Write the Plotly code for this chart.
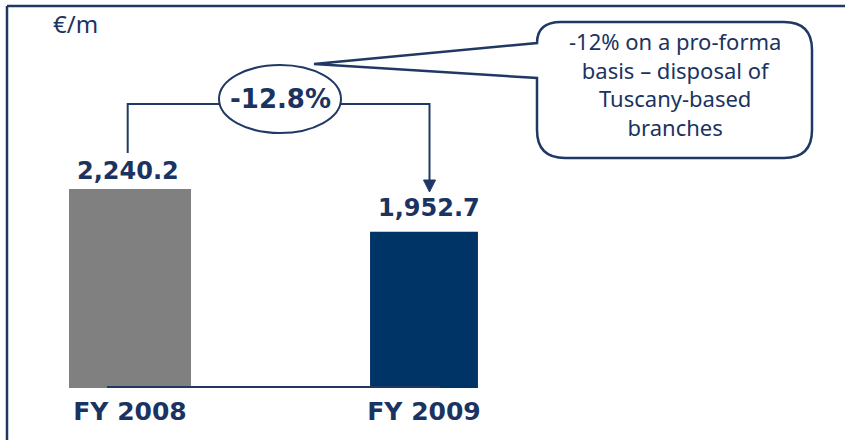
import plotly.graph_objects as go

# ---- data ----
categories = ["FY 2008", "FY 2009"]
values = [2240.2, 1952.7]
value_labels = ["2,240.2", "1,952.7"]
bar_colors = ["#808080", "#003366"]
bar_widths = [0.415, 0.367]
change_label = "-12.8%"
unit_label = "€/m"
callout_text = "-12% on a pro-forma<br>basis – disposal of<br>Tuscany-based<br>branches"

W, H = 845, 440
PLOT_BOTTOM = 388  # pixel y of plot-area bottom (margin t=0)
NAVY = "#1b3360"
LINE = "#1f3864"


def px(x):
    return x / W


def py(y):
    return (PLOT_BOTTOM - y) / PLOT_BOTTOM


fig = go.Figure()
fig.add_trace(go.Bar(
    x=[0, 1], y=values, width=bar_widths,
    marker=dict(color=bar_colors, line=dict(width=0)),
    hoverinfo="skip", showlegend=False,
))

annotations = []
# value labels above bars
shifts = [(-2, 2), (4.5, 8)]
for i, (lab, v) in enumerate(zip(value_labels, values)):
    annotations.append(dict(
        x=i, y=v, xref="x", yref="y", text=lab, showarrow=False,
        xanchor="center", yanchor="bottom", xshift=shifts[i][0], yshift=shifts[i][1],
        font=dict(family="DejaVu Sans", size=24, color=NAVY, weight="bold"),
    ))
# unit
annotations.append(dict(
    x=px(75.5), y=py(23), xref="paper", yref="paper", text=unit_label, showarrow=False,
    xanchor="center", yanchor="middle",
    font=dict(family="Noto Sans", size=24, color=NAVY),
))
# change label in ellipse
annotations.append(dict(
    x=px(280), y=py(99), xref="paper", yref="paper", text=change_label, showarrow=False,
    xanchor="center", yanchor="middle",
    font=dict(family="DejaVu Sans", size=26, color=NAVY, weight="bold"),
))
# callout text
annotations.append(dict(
    x=px(674.5), y=py(84), xref="paper", yref="paper", text=callout_text, showarrow=False,
    xanchor="center", yanchor="middle", align="center",
    font=dict(family="Noto Sans", size=22, color=NAVY),
))

shapes = []
# frame lines (top and left)
shapes.append(dict(type="line", xref="paper", yref="paper", x0=px(7), x1=px(845), y0=py(6), y1=py(6),
                   line=dict(color=LINE, width=2.5)))
shapes.append(dict(type="line", xref="paper", yref="paper", x0=px(7), x1=px(7), y0=py(6), y1=py(440),
                   line=dict(color=LINE, width=2.5)))
# baseline
shapes.append(dict(type="line", xref="paper", yref="paper", x0=px(107), x1=px(440), y0=py(387), y1=py(387),
                   line=dict(color=LINE, width=2)))
# connector left
shapes.append(dict(type="path", xref="paper", yref="paper",
                   path=f"M {px(127.7)},{py(153)} L {px(127.7)},{py(104)} L {px(219)},{py(104)}",
                   line=dict(color=LINE, width=2)))
# connector right
shapes.append(dict(type="path", xref="paper", yref="paper",
                   path=f"M {px(341)},{py(104)} L {px(429.5)},{py(104)} L {px(429.5)},{py(182)}",
                   line=dict(color=LINE, width=2)))
# arrowhead
shapes.append(dict(type="path", xref="paper", yref="paper",
                   path=f"M {px(423.5)},{py(180)} L {px(435.5)},{py(180)} L {px(429.5)},{py(192)} Z",
                   fillcolor=LINE, line=dict(color=LINE, width=1)))
# ellipse
shapes.append(dict(type="circle", xref="paper", yref="paper", x0=px(219), x1=px(341), y0=py(133), y1=py(65),
                   fillcolor="white", line=dict(color=LINE, width=2)))
# callout bubble
L_, R_, T_, B_ = 537, 812, 22, 158
r = 28
pts = [
    ("M", (314, 64)),
    ("L", (L_, 43)),
    ("Q", (L_, T_), (L_ + 24, T_)),
    ("L", (R_ - r, T_)),
    ("Q", (R_, T_), (R_, T_ + r)),
    ("L", (R_, B_ - r)),
    ("Q", (R_, B_), (R_ - r, B_)),
    ("L", (L_ + r, B_)),
    ("Q", (L_, B_), (L_, B_ - r)),
    ("L", (L_, 78)),
]
path = ""
for item in pts:
    cmd = item[0]
    coords = " ".join(f"{px(a)},{py(b)}" for a, b in item[1:])
    path += f"{cmd} {coords} "
path += "Z"
shapes.append(dict(type="path", xref="paper", yref="paper", path=path,
                   fillcolor="white", line=dict(color=LINE, width=2.5)))

fig.update_layout(
    width=W, height=H,
    margin=dict(l=0, r=0, t=0, b=H - PLOT_BOTTOM),
    paper_bgcolor="white", plot_bgcolor="white",
    showlegend=False,
    annotations=annotations, shapes=shapes,
    xaxis=dict(range=[-130 / 294, (845 - 130) / 294], tickmode="array", tickvals=[0, 1],
               ticktext=categories, showgrid=False, zeroline=False, showline=False, ticks="",
               ticklabelstandoff=6,
               tickfont=dict(family="DejaVu Sans", size=25, color=NAVY, weight="bold"),
               fixedrange=True),
    yaxis=dict(range=[900.2, 3513], visible=False, showgrid=False, fixedrange=True),
)

fig.write_html("out.html")
